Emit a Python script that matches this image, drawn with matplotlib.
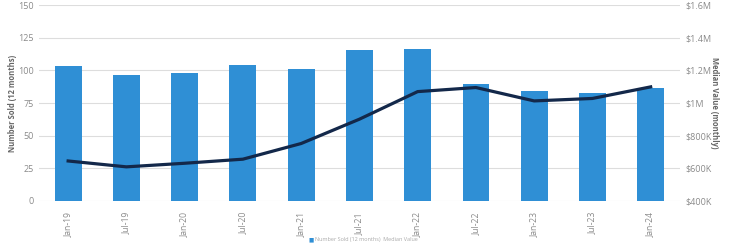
import numpy as np
import matplotlib.pyplot as plt
from matplotlib.ticker import FuncFormatter

# === Data ===
periods = ["Jan-19", "Jul-19", "Jan-20", "Jul-20", "Jan-21", "Jul-21",
           "Jan-22", "Jul-22", "Jan-23", "Jul-23", "Jan-24"]
number_sold = [103.3, 96.7, 97.7, 104.3, 101.3, 115.3, 116.0, 89.5, 84.0, 83.0, 86.7]
median_value = [645, 609, 631, 656, 752, 901, 1070, 1095, 1013, 1028, 1099]  # $K

bar_color = "#2f8fd5"
line_color = "#13284a"
grid_color = "#dddddd"
text_color = "#8a8a8a"

plt.rcParams['font.family'] = ['Open Sans', 'DejaVu Sans']

fig = plt.figure(figsize=(7.29, 2.43), dpi=100)
ax = fig.add_axes([0.0535, 0.173, 0.879, 0.806])
x = np.arange(len(periods))

ax.bar(x, number_sold, width=0.46, color=bar_color, zorder=2)
ax.set_xlim(-0.5, len(periods) - 0.5)
ax.set_ylim(0, 150)
ax.set_yticks([0, 25, 50, 75, 100, 125, 150])
ax.grid(axis='y', color=grid_color, linewidth=0.8, zorder=0)
ax.set_xticks(x)
ax.set_xticklabels(periods, rotation=90, fontsize=6.2, color=text_color)
ax.tick_params(axis='y', length=0, labelsize=6.5, labelcolor=text_color)
ax.tick_params(axis='x', length=0, pad=8)
for s in ax.spines.values():
    s.set_visible(False)
ax.set_ylabel("Number Sold (12 months)", fontsize=5.5, fontweight='bold',
              color="#666666", labelpad=1)

ax2 = ax.twinx()
ax2.plot(x, median_value, color=line_color, linewidth=2.3, zorder=3)
ax2.set_ylim(400, 1600)
ax2.set_yticks([400, 600, 800, 1000, 1200, 1400, 1600])
ax2.yaxis.set_major_formatter(FuncFormatter(
    lambda v, p: f"${v/1000:g}M" if v >= 1000 else f"${v:.0f}K"))
ax2.tick_params(axis='y', length=0, labelsize=6.5, labelcolor=text_color, pad=4)
for s in ax2.spines.values():
    s.set_visible(False)
ax2.set_ylabel("Median Value (monthly)", fontsize=5.5, fontweight='bold',
               color="#666666", rotation=270, labelpad=5)

# legend at bottom edge, between the Jan-21 and Jan-22 tick labels
fig.text(0.423, 0.003, "\u25A0", fontsize=4, color=bar_color, va='bottom')
fig.text(0.432, 0.003, "Number Sold (12 months)  Median Value", fontsize=4,
         color="#aaaaaa", va='bottom')

fig.savefig("out.png", dpi=100)
